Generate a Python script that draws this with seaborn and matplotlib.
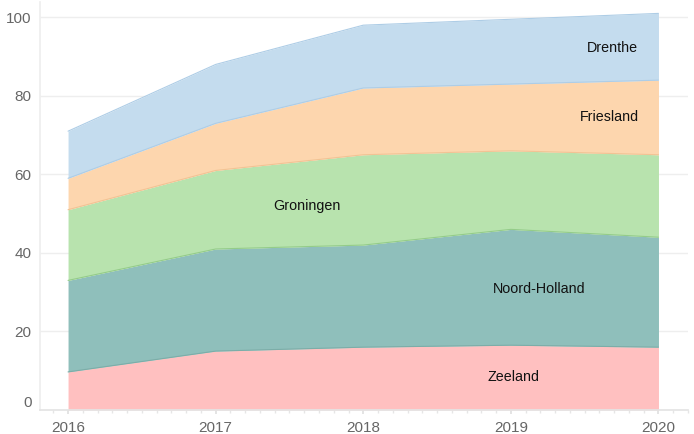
import matplotlib
matplotlib.use("Agg")
import matplotlib.pyplot as plt
import seaborn as sns
import numpy as np
import pandas as pd
from matplotlib.ticker import MultipleLocator

years = [2016, 2017, 2018, 2019, 2020]
series_names = ["Zeeland", "Noord-Holland", "Groningen", "Friesland", "Drenthe"]
zeeland = [9.7, 15, 16, 16.5, 16]
noord_holland = [23.3, 26, 26, 29.5, 28]
groningen = [18, 20, 23, 20, 21]
friesland = [8, 12, 17, 17, 19]
drenthe = [12, 15, 16, 16.5, 17]

fill_colors = ["#ffc0c0", "#8fbfbb", "#b8e3ae", "#fdd6ae", "#c4dcee"]
edge_colors = ["#7cada8", "#94cc89", "#f2c394", "#aecde6", "#aecde6"]

sns.set_theme(style="white")
plt.rcParams["font.family"] = ["Liberation Sans", "DejaVu Sans"]

df = pd.DataFrame({"year": years, "Zeeland": zeeland, "Noord-Holland": noord_holland,
                   "Groningen": groningen, "Friesland": friesland, "Drenthe": drenthe})

fig = plt.figure(figsize=(6.94, 4.34), dpi=100)
ax = fig.add_axes([40 / 694, (434 - 410) / 434, 648 / 694, 408 / 434])

ax.stackplot(df["year"], [df[n] for n in series_names], colors=fill_colors, linewidth=0, zorder=2)

cum = np.cumsum([df[n].values for n in series_names], axis=0)
for i, n in enumerate(series_names):
    sns.lineplot(x=df["year"], y=cum[i], color=edge_colors[i], linewidth=0.8, ax=ax, zorder=3)

ax.set_xlim(2015.81, 2020.2)
ax.set_ylim(0, 103.9)
ax.set_yticks([0, 20, 40, 60, 80, 100])
ax.set_xticks(years)
ax.set_xticklabels([str(y) for y in years])
ax.xaxis.set_minor_locator(MultipleLocator(0.1))
ax.grid(axis="y", color="#eeeeee", linewidth=1, zorder=0)
ax.set_axisbelow(True)
for s in ["top", "right"]:
    ax.spines[s].set_visible(False)
ax.spines["left"].set_color("#eeeeee")
ax.spines["bottom"].set_color("#e4e4e4")
ax.tick_params(axis="x", which="major", length=3, color="#e0e0e0", labelsize=11, labelcolor="#666666", pad=5, bottom=True)
ax.tick_params(axis="x", which="minor", length=2, color="#e6e6e6", bottom=True)
ax.tick_params(axis="y", length=0, labelsize=11, labelcolor="#666666", pad=6)
ax.set_xlabel("")
ax.set_ylabel("")
for lbl in ax.get_yticklabels():
    if lbl.get_text() == "0":
        lbl.set_verticalalignment("bottom")

labels = [("Drenthe", 2019.69, 92.2), ("Friesland", 2019.67, 74.6), ("Groningen", 2017.62, 52.0),
          ("Noord-Holland", 2019.19, 30.8), ("Zeeland", 2019.02, 8.4)]
for t, x, y in labels:
    ax.text(x, y, t, ha="center", va="center", fontsize=10.3, color="#111111", zorder=5)

fig.savefig("out.png", dpi=100)
